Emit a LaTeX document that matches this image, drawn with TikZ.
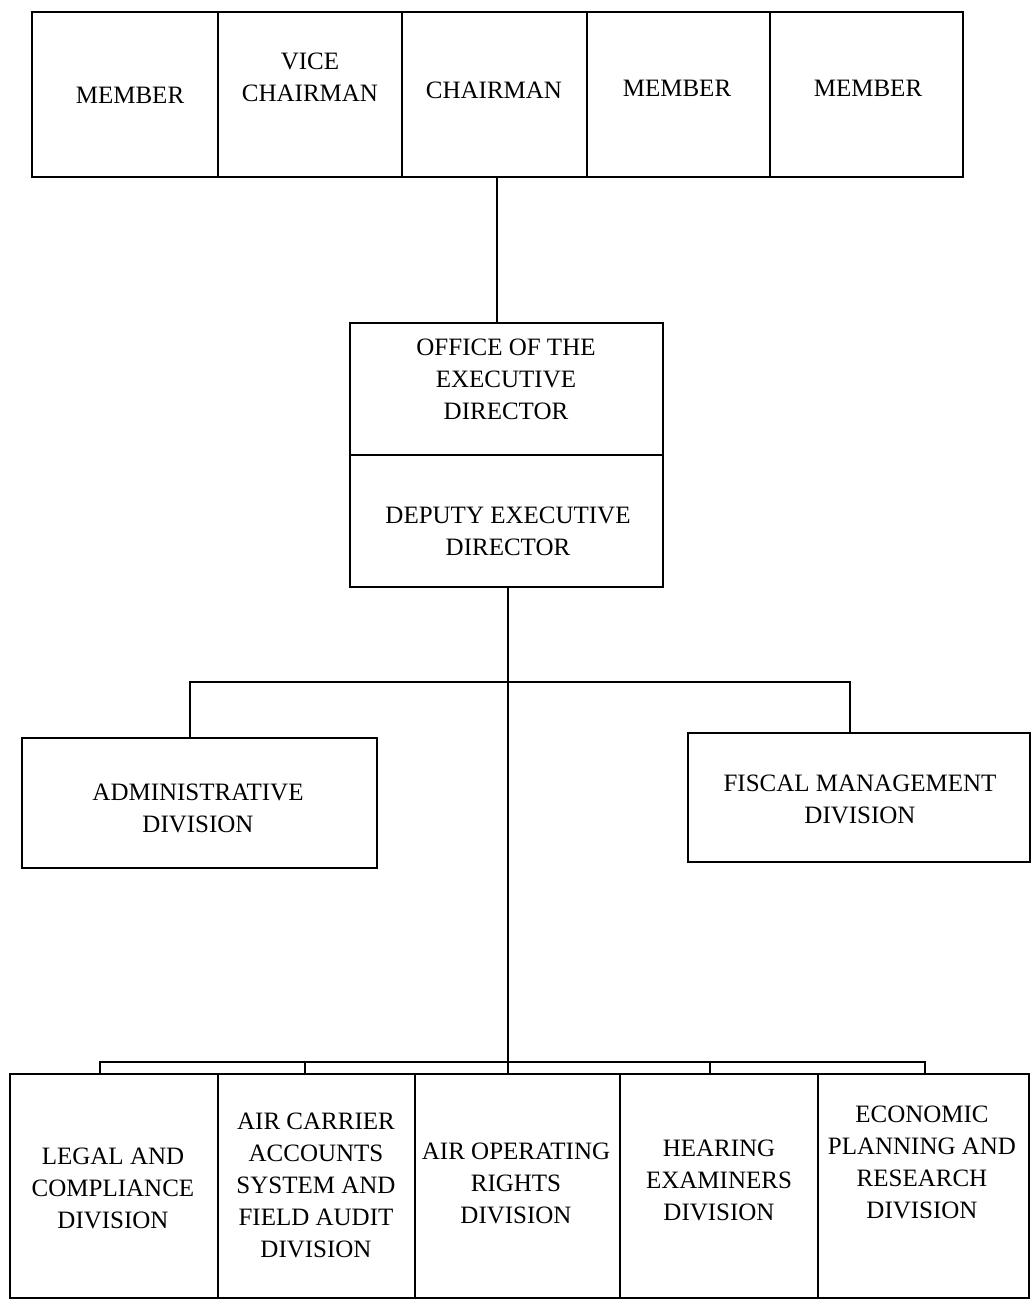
\documentclass[tikz,border=0pt]{standalone}
\usepackage{fontspec}
\setmainfont{Liberation Serif}
\begin{document}
\begin{tikzpicture}[x=1pt,y=-1pt,
  box/.style={draw, line width=1.5pt, inner sep=0pt, outer sep=0pt},
  lbl/.style={align=center, font=\fontsize{25}{32}\selectfont, inner sep=0pt},
  conn/.style={line width=1.5pt}]
\useasboundingbox (0,0) rectangle (1032,1301);
% top row
\node[box, minimum width=186pt, minimum height=165pt] (m1) at (125,94.5) {};
\node[box, minimum width=184pt, minimum height=165pt] (vc) at (310,94.5) {};
\node[box, minimum width=185pt, minimum height=165pt] (ch) at (494.5,94.5) {};
\node[box, minimum width=183pt, minimum height=165pt] (m4) at (678.5,94.5) {};
\node[box, minimum width=193pt, minimum height=165pt] (m5) at (866.5,94.5) {};
\node[lbl] (t1) at (130,95) {MEMBER};
\node[lbl] (t2) at (310,77) {VICE\\CHAIRMAN};
\node[lbl] (t3) at (494,90) {CHAIRMAN};
\node[lbl] (t4) at (677,88) {MEMBER};
\node[lbl] (t5) at (868,88) {MEMBER};
% executive
\node[box, minimum width=313pt, minimum height=132pt] (off) at (506.5,389) {};
\node[box, minimum width=313pt, minimum height=132pt] (dep) at (506.5,521) {};
\node[lbl] (toff) at (506,379) {OFFICE OF THE\\EXECUTIVE\\DIRECTOR};
\node[lbl] (tdep) at (508,531) {DEPUTY EXECUTIVE\\DIRECTOR};
% divisions
\node[box, minimum width=355pt, minimum height=130pt] (adm) at (199.5,803) {};
\node[box, minimum width=342pt, minimum height=129pt] (fis) at (859,797.5) {};
\node[lbl] (tadm) at (198,808) {ADMINISTRATIVE\\DIVISION};
\node[lbl] (tfis) at (860,799) {FISCAL MANAGEMENT\\DIVISION};
% bottom row
\node[box, minimum width=208pt, minimum height=224pt] (b1) at (114,1186) {};
\node[box, minimum width=197pt, minimum height=224pt] (b2) at (316.5,1186) {};
\node[box, minimum width=205pt, minimum height=224pt] (b3) at (517.5,1186) {};
\node[box, minimum width=198pt, minimum height=224pt] (b4) at (719,1186) {};
\node[box, minimum width=211pt, minimum height=224pt] (b5) at (923.5,1186) {};
\node[lbl] (tb1) at (113,1188) {LEGAL AND\\COMPLIANCE\\DIVISION};
\node[lbl] (tb2) at (316,1185) {AIR CARRIER\\ACCOUNTS\\SYSTEM AND\\FIELD AUDIT\\DIVISION};
\node[lbl] (tb3) at (516,1183) {AIR OPERATING\\RIGHTS\\DIVISION};
\node[lbl] (tb4) at (719,1180) {HEARING\\EXAMINERS\\DIVISION};
\node[lbl] (tb5) at (922,1162) {ECONOMIC\\PLANNING AND\\RESEARCH\\DIVISION};
% connectors
\coordinate (c1) at (497,177);
\coordinate (c2) at (497,323);
\coordinate (busmid) at (508,682);
\coordinate (busbot) at (508,1062);
\coordinate (a1) at (190,738);
\coordinate (f1) at (850,733);
\coordinate (p1) at (100,1074);
\coordinate (p2) at (305,1074);
\coordinate (p3) at (508,1074);
\coordinate (p4) at (710,1074);
\coordinate (p5) at (925,1074);
\draw[conn] (c1) -- (c2);
\draw[conn] (dep.south -| busmid) -- (p3);
\draw[conn] (a1) |- (busmid) -| (f1);
\draw[conn] (p1) |- (busbot) -| (p5);
\draw[conn] (p2) -- (p2 |- busbot);
\draw[conn] (p4) -- (p4 |- busbot);
\end{tikzpicture}
\end{document}
